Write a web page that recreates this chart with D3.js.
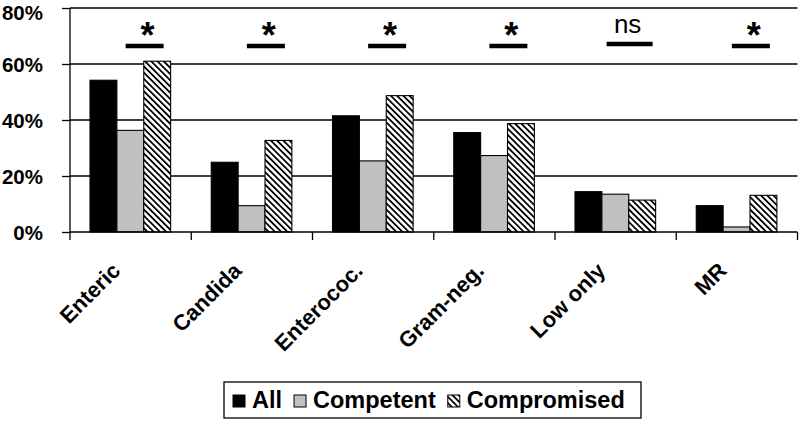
<!DOCTYPE html>
<html>
<head>
<meta charset="utf-8">
<script src="https://cdn.jsdelivr.net/npm/d3@7"></script>
<style>
  html, body { margin: 0; padding: 0; background: #fff; }
  svg { display: block; font-family: Arial, "Liberation Sans", sans-serif; }
</style>
</head>
<body>
<svg id="chart" width="800" height="421"></svg>
<script>
const categories = ["Enteric", "Candida", "Enterococ.", "Gram-neg.", "Low only", "MR"];
const seriesNames = ["All", "Competent", "Compromised"];
const allValues = [54.2, 24.9, 41.5, 35.5, 14.4, 9.4];
const competentValues = [36.3, 9.4, 25.4, 27.3, 13.5, 1.8];
const compromisedValues = [61.0, 32.7, 48.7, 38.7, 11.4, 13.1];
const sigLabels = ["*", "*", "*", "*", "ns", "*"];
const yTicks = [0, 20, 40, 60, 80];

const svg = d3.select("#chart");
const defs = svg.append("defs");
const pat = defs.append("pattern")
  .attr("id", "hatch").attr("patternUnits", "userSpaceOnUse")
  .attr("width", 4.4).attr("height", 4.4)
  .attr("patternTransform", "rotate(-45)");
pat.append("rect").attr("width", 4.4).attr("height", 4.4).attr("fill", "#fff");
pat.append("rect").attr("x", 0).attr("y", 0).attr("width", 1.8).attr("height", 4.4).attr("fill", "#000");

const fills = ["#000000", "#c0c0c0", "url(#hatch)"];
const seriesValues = [allValues, competentValues, compromisedValues];

const pLeft = 70, pRight = 797.5, pTop = 8, pBottom = 232;
const x0 = d3.scaleBand().domain(categories).range([pLeft, pRight]).padding(0);
const bw = x0.bandwidth();
const x1 = d3.scaleBand().domain(seriesNames).range([bw * 0.165, bw * 0.83]).padding(0);
const y = d3.scaleLinear().domain([0, 80]).range([pBottom, pTop]);

// y axis ticks + labels
const yAxis = d3.axisLeft(y).tickValues(yTicks).tickFormat(d => d + "%").tickSize(8).tickPadding(19);
const gy = svg.append("g").attr("transform", `translate(${pLeft},0)`).call(yAxis);
gy.select(".domain").attr("stroke", "#000").attr("stroke-width", 1.3).attr("d", `M0,${pTop}V${pBottom}`);
gy.selectAll(".tick line").attr("stroke", "#000").attr("stroke-width", 1.3);
gy.selectAll(".tick text").attr("font-size", 20.5).attr("font-weight", "bold").attr("fill", "#000")
  .attr("font-family", "Arial, 'Liberation Sans', sans-serif")
  .attr("dy", d => d === 80 ? "0.54em" : "0.36em");

// gridlines
svg.append("g").selectAll("line").data(yTicks.filter(d => d > 0)).join("line")
  .attr("x1", pLeft).attr("x2", pRight).attr("y1", d => y(d)).attr("y2", d => y(d))
  .attr("stroke", "#000").attr("stroke-width", 1.3);

// bars
const groups = svg.append("g").selectAll("g").data(categories).join("g")
  .attr("transform", d => `translate(${x0(d)},0)`);
groups.selectAll("rect").data((d, i) => seriesNames.map((s, j) => ({ s, j, v: seriesValues[j][i] })))
  .join("rect")
  .attr("x", d => x1(d.s)).attr("width", x1.bandwidth())
  .attr("y", d => y(d.v)).attr("height", d => y(0) - y(d.v))
  .attr("fill", d => fills[d.j]).attr("stroke", "#000").attr("stroke-width", 1.1);

// x axis
const xAxis = d3.axisBottom(x0).tickSize(0).tickFormat("");
const gx = svg.append("g").attr("transform", `translate(0,${pBottom})`).call(xAxis);
gx.select(".domain").attr("stroke", "#000").attr("stroke-width", 1.3).attr("d", `M${pLeft},0H${pRight}`);
const boundaries = categories.map(c => x0(c)).concat([pRight]);
gx.selectAll("line.bnd").data(boundaries).join("line").attr("class", "bnd")
  .attr("x1", d => d).attr("x2", d => d).attr("y1", 0).attr("y2", 8)
  .attr("stroke", "#000").attr("stroke-width", 1.3);

svg.append("g").selectAll("text").data(categories).join("text")
  .attr("transform", d => `translate(${x0(d) + bw / 2 - 9},${272}) rotate(-45)`)
  .attr("text-anchor", "end").attr("font-size", 22).attr("font-weight", "bold").attr("fill", "#000")
  .text(d => d);

// significance markers
const sig = svg.append("g");
sig.selectAll("line").data(categories).join("line")
  .attr("x1", (d, i) => x0(d) + bw / 2 + 14 - (sigLabels[i] === "ns" ? 23 : 19))
  .attr("x2", (d, i) => x0(d) + bw / 2 + 14 + (sigLabels[i] === "ns" ? 23 : 19))
  .attr("y1", (d, i) => sigLabels[i] === "ns" ? 44 : 46)
  .attr("y2", (d, i) => sigLabels[i] === "ns" ? 44 : 46)
  .attr("stroke", "#000").attr("stroke-width", 4.5);
sig.selectAll("text").data(categories).join("text")
  .attr("x", (d, i) => x0(d) + bw / 2 + 17 - (sigLabels[i] === "ns" ? 5 : 0))
  .attr("y", (d, i) => sigLabels[i] === "ns" ? 33 : 48)
  .attr("text-anchor", "middle")
  .attr("font-size", (d, i) => sigLabels[i] === "ns" ? 26 : 36)
  .attr("font-weight", (d, i) => sigLabels[i] === "ns" ? "normal" : "bold")
  .attr("fill", "#000")
  .text((d, i) => sigLabels[i]);

// legend
const lg = svg.append("g");
lg.append("rect").attr("x", 224).attr("y", 382).attr("width", 417).attr("height", 36)
  .attr("fill", "#fff").attr("stroke", "#000").attr("stroke-width", 1.3);
let lx = 233;
seriesNames.forEach((s, j) => {
  lg.append("rect").attr("x", lx).attr("y", 395).attr("width", 12).attr("height", 12)
    .attr("fill", fills[j]).attr("stroke", "#000").attr("stroke-width", 1);
  const t = lg.append("text").attr("x", lx + 19).attr("y", 408)
    .attr("font-size", 23.5).attr("font-weight", "bold").attr("fill", "#000").text(s);
  lx = lx + 19 + t.node().getComputedTextLength() + 12;
});
</script>
</body>
</html>
